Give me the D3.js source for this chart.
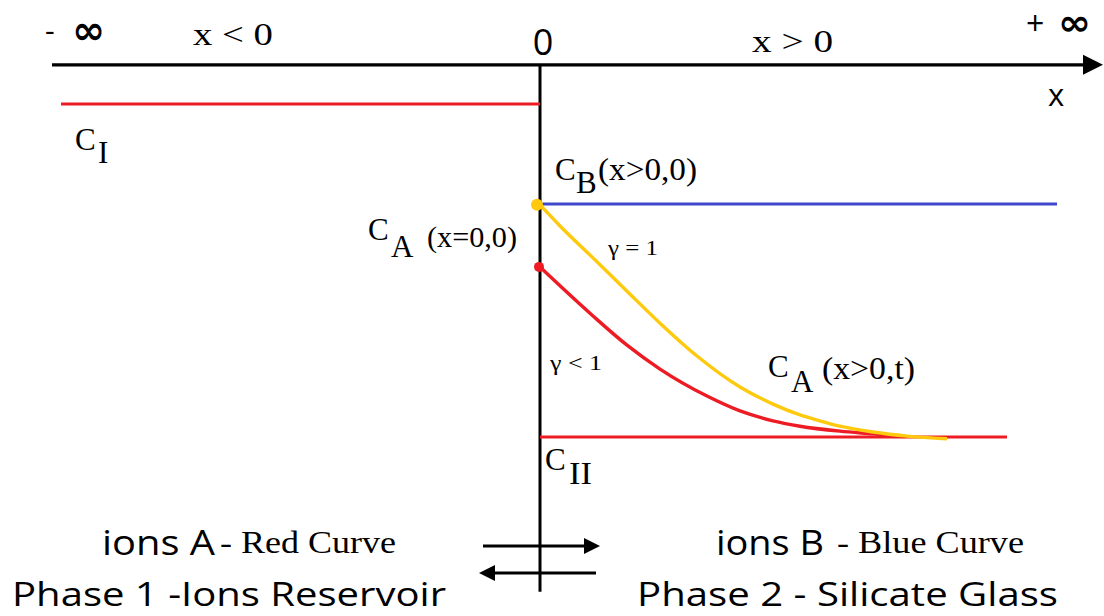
<!DOCTYPE html>
<html><head><meta charset="utf-8">
<script src="https://cdn.jsdelivr.net/npm/d3@7"></script>
<style>html,body{margin:0;padding:0;background:#fff;}svg{display:block;}</style>
</head><body>
<svg id="chart" width="1104" height="616"></svg>
<script>
// ---- data (x in distance units, y in concentration units) ----
const axisLevel = 9.27;          // level of the x axis
const axisExtent = [-9.76, 11.26];
const verticalExtent = [-2.44, 9.27];
const C_I = 8.4;                  // reservoir concentration, x<0
const C_I_extent = [-9.58, 0];
const C_B0 = 6.18;                // C_B(x>0,0)
const C_B_extent = [0, 10.34];
const C_II = 1.0;                 // C_II
const C_II_extent = [0, 9.34];
const C_A0_gamma1 = 6.16;
const C_A0_gammaLt1 = 4.78;
const gamma1X = [0, 0.4, 1.06, 1.74, 2.4, 3.14, 4.0, 4.66, 5.2, 5.6, 6.0, 6.66, 7.34, 8.14];
const gamma1Y = [6.16, 5.69, 4.98, 4.24, 3.53, 2.8, 2.11, 1.73, 1.49, 1.36, 1.24, 1.11, 1.02, 0.96];
const gammaLt1X = [0, 0.4, 1.06, 1.74, 2.4, 3.34, 4.0, 4.66, 5.2, 6.0, 6.66, 7.3];
const gammaLt1Y = [4.78, 4.36, 3.69, 3.04, 2.51, 1.91, 1.58, 1.36, 1.24, 1.13, 1.07, 1.01];
const regionLabels = ["-", "\u221e", "x < 0", "0", "x > 0", "+", "\u221e"];

const svg = d3.select("#chart");
const x = d3.scaleLinear().domain([-10, 10]).range([40, 1040]);
const y = d3.scaleLinear().domain([0, 10]).range([482, 32]);

const RED = "#ed1c24", BLUE = "#3f48cc", GOLD = "#ffc90e", BLACK = "#000";
const SERIF = "Liberation Serif, Times New Roman, serif";
const SANS = "Open Sans, Liberation Sans, sans-serif";
const SYM = "DejaVu Sans, sans-serif";

function txt(px, py, s, font, size, tl, anchor) {
  const t = svg.append("text").attr("x", px).attr("y", py).text(s)
    .attr("font-family", font).attr("font-size", size).attr("fill", BLACK);
  if (anchor) t.attr("text-anchor", anchor);
  if (tl) t.attr("textLength", tl).attr("lengthAdjust", "spacingAndGlyphs");
  return t;
}

// ---- axes ----
svg.append("line").attr("x1", x(axisExtent[0])).attr("x2", x(axisExtent[1]) - 16)
  .attr("y1", y(axisLevel)).attr("y2", y(axisLevel)).attr("stroke", BLACK).attr("stroke-width", 3.2);
const tipX = x(axisExtent[1]), ay = y(axisLevel);
svg.append("path").attr("d", `M${tipX},${ay} L${tipX-20},${ay-10} L${tipX-20},${ay+10} Z`).attr("fill", BLACK);
svg.append("line").attr("x1", x(0)).attr("x2", x(0))
  .attr("y1", y(verticalExtent[1])).attr("y2", y(verticalExtent[0])).attr("stroke", BLACK).attr("stroke-width", 3);

// ---- concentration levels ----
svg.append("line").attr("x1", x(C_I_extent[0])).attr("x2", x(C_I_extent[1]))
  .attr("y1", y(C_I)).attr("y2", y(C_I)).attr("stroke", RED).attr("stroke-width", 3.2);
svg.append("line").attr("x1", x(C_B_extent[0])).attr("x2", x(C_B_extent[1]))
  .attr("y1", y(C_B0)).attr("y2", y(C_B0)).attr("stroke", BLUE).attr("stroke-width", 3);
svg.append("line").attr("x1", x(C_II_extent[0])).attr("x2", x(C_II_extent[1]))
  .attr("y1", y(C_II)).attr("y2", y(C_II)).attr("stroke", RED).attr("stroke-width", 3.2);

// ---- curves ----
const line = d3.line().x(d => x(d[0])).y(d => y(d[1])).curve(d3.curveMonotoneX);
const redPts = gammaLt1X.map((v, i) => [v, gammaLt1Y[i]]);
const goldPts = gamma1X.map((v, i) => [v, gamma1Y[i]]);
svg.append("path").attr("d", line(redPts)).attr("fill", "none").attr("stroke", RED).attr("stroke-width", 3.4);
svg.append("path").attr("d", line(goldPts)).attr("fill", "none").attr("stroke", GOLD).attr("stroke-width", 3.4);
svg.append("circle").attr("cx", x(0) - 3).attr("cy", y(C_A0_gamma1)).attr("r", 6).attr("fill", GOLD);
svg.append("circle").attr("cx", x(0) - 1).attr("cy", y(C_A0_gammaLt1)).attr("r", 5).attr("fill", RED);

// ---- top labels ----
txt(45, 41, regionLabels[0], SANS, 30);
txt(72, 44, regionLabels[1], SYM, 40, 33).attr("font-weight", "bold");
txt(193, 45, regionLabels[2], SERIF, 31, 80);
txt(x(0) + 3, 55, regionLabels[3], SANS, 36, null, "middle");
txt(752, 52, regionLabels[4], SERIF, 31, 81);
txt(1026, 35, regionLabels[5], SANS, 32);
txt(1058, 35, regionLabels[6], SYM, 36, 33).attr("font-weight", "bold");
txt(1056, 106, "x", SANS, 31, null, "middle");

// ---- concentration labels ----
txt(75, 150, "C", SERIF, 31);
txt(98, 163, "I", SERIF, 31);
txt(555, 180, "C", SERIF, 31);
txt(576, 193, "B", SERIF, 31);
txt(598, 180, "(x>0,0)", SERIF, 31, 99);
txt(368, 240, "C", SERIF, 31);
txt(391, 257, "A", SERIF, 31);
txt(427, 247, "(x=0,0)", SERIF, 29, 90);
txt(608, 255, "\u03b3 = 1", SERIF, 21, 50);
txt(550, 370, "\u03b3 < 1", SERIF, 21, 52);
txt(768, 377, "C", SERIF, 31);
txt(791, 392, "A", SERIF, 31);
txt(822, 379, "(x>0,t)", SERIF, 31, 93);
txt(545, 470, "C", SERIF, 31);
txt(569, 484, "II", SERIF, 31, 23);

// ---- bottom labels ----
txt(102, 555, "ions A", SANS, 35, 113);
txt(220, 553, "- Red Curve", SERIF, 32, 176);
txt(12, 606, "Phase 1 -Ions Reservoir", SANS, 33, 434);
txt(716, 555, "ions B", SANS, 35, 108);
txt(837, 553, "- Blue Curve", SERIF, 32, 187);
txt(637, 606, "Phase 2 - Silicate Glass", SANS, 33, 421);

// ---- exchange arrows ----
svg.append("line").attr("x1", 483).attr("x2", 586).attr("y1", 546).attr("y2", 546).attr("stroke", BLACK).attr("stroke-width", 3);
svg.append("path").attr("d", "M600,546 L584,538 L584,554 Z").attr("fill", BLACK);
svg.append("line").attr("x1", 494).attr("x2", 596).attr("y1", 573).attr("y2", 573).attr("stroke", BLACK).attr("stroke-width", 3);
svg.append("path").attr("d", "M479,573 L495,565 L495,581 Z").attr("fill", BLACK);
</script>
</body></html>
